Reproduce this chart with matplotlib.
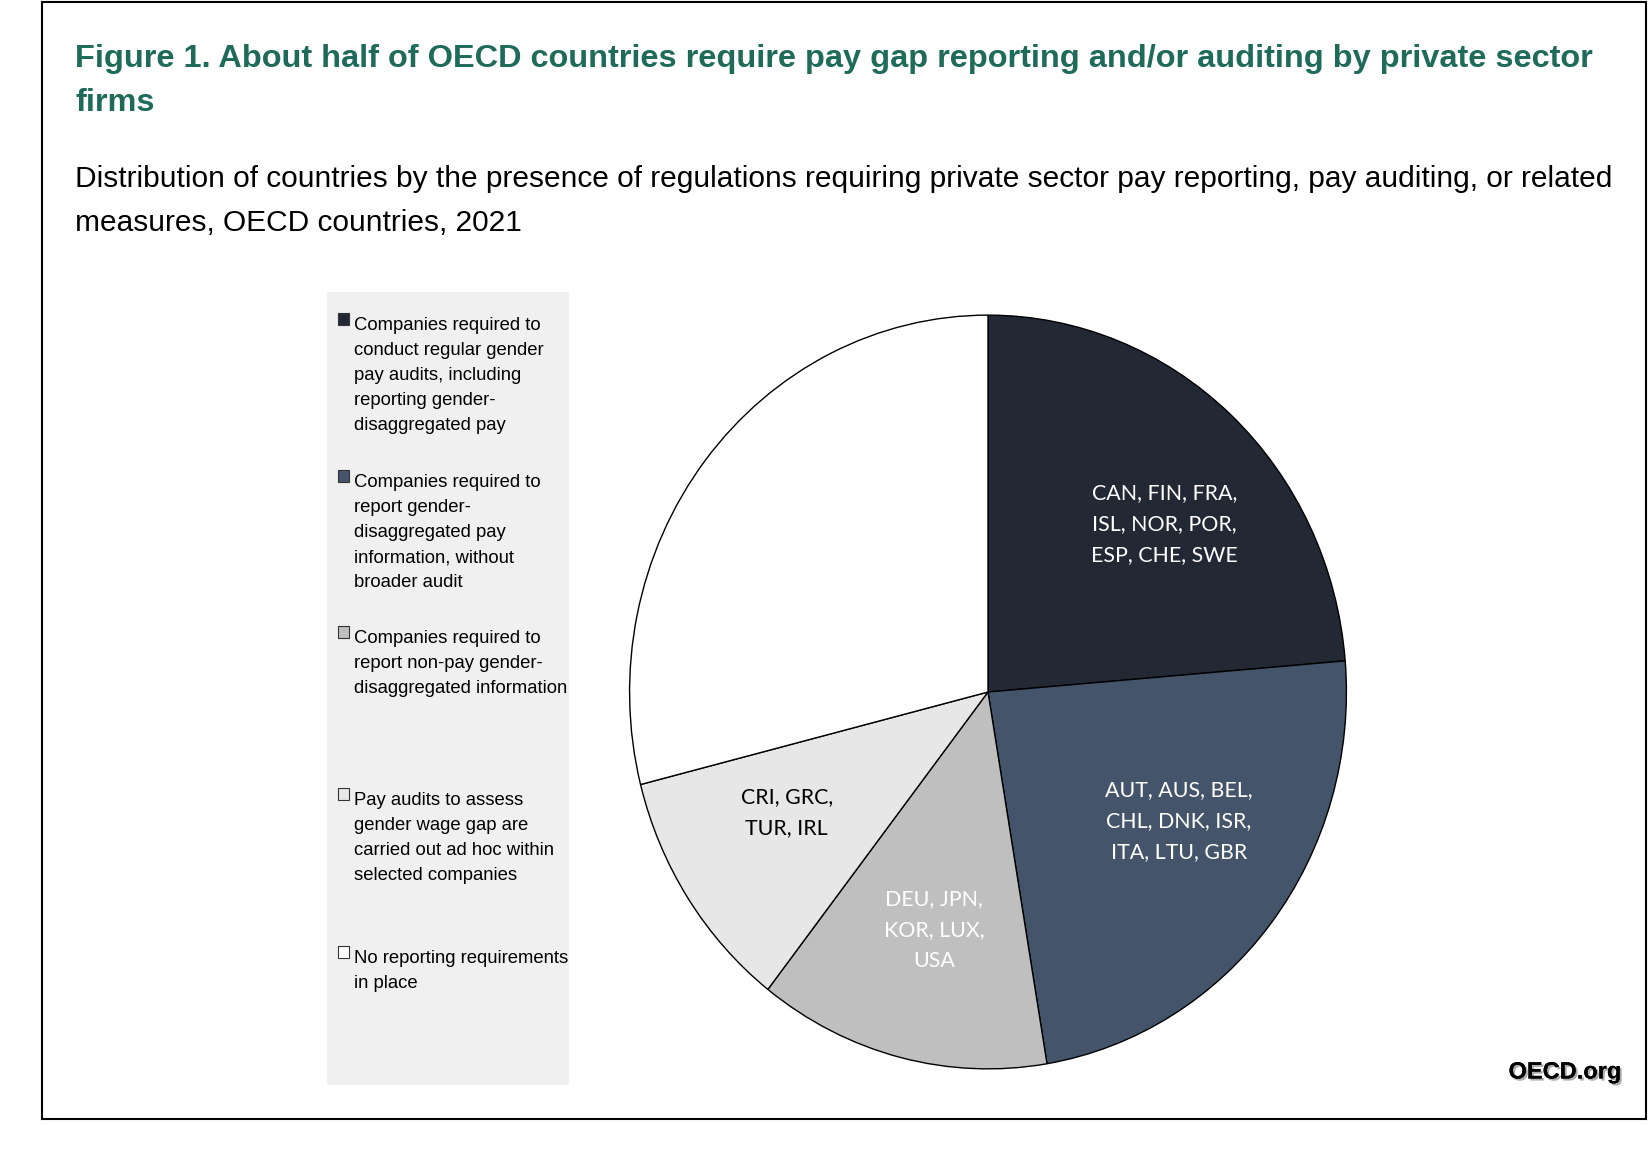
"""
Pie chart of OECD countries by pay reporting / auditing regulation, 2021.
"""

# ------ import section ------
import matplotlib
matplotlib.use("Agg")
import matplotlib.pyplot as plt
import matplotlib.patheffects as pe
from matplotlib import font_manager
from matplotlib.patches import Rectangle
import numpy as np

# ------ data section ------
categories = [
    "Companies required to\nconduct regular gender\npay audits, including\nreporting gender-\ndisaggregated pay",
    "Companies required to\nreport gender-\ndisaggregated pay\ninformation, without\nbroader audit",
    "Companies required to\nreport non-pay gender-\ndisaggregated information",
    "Pay audits to assess\ngender wage gap are\ncarried out ad hoc within\nselected companies",
    "No reporting requirements\nin place",
]
counts = [9, 9, 5, 4, 11]
slice_labels = [
    "CAN, FIN, FRA,\nISL, NOR, POR,\nESP, CHE, SWE",
    "AUT, AUS, BEL,\nCHL, DNK, ISR,\nITA, LTU, GBR",
    "DEU, JPN,\nKOR, LUX,\nUSA",
    "CRI, GRC,\nTUR, IRL",
    "",
]
colors = ["#222935", "#44546a", "#bfbfbf", "#e7e7e7", "#ffffff"]
label_colors = ["white", "white", "white", "black", "black"]
title_lines = ["Figure 1. About half of OECD countries require pay gap reporting and/or auditing by private sector",
               "firms"]
subtitle_lines = ["Distribution of countries by the presence of regulations requiring private sector pay reporting, pay auditing, or related",
                  "measures, OECD countries, 2021"]

W, H = 1648, 1162


def pick(names):
    have = {f.name for f in font_manager.fontManager.ttflist}
    for n in names:
        if n in have:
            return n
    return "DejaVu Sans"


NARROW = pick(["Liberation Sans Narrow", "Arial Narrow", "Liberation Sans"])
ARIAL = pick(["Liberation Sans", "Arial"])
LABEL = pick(["Lato", "Open Sans"])


def fx(x):
    return x / W


def fy(y):
    return 1 - y / H


# ------ main section ------
def main():
    fig = plt.figure(figsize=(W / 100, H / 100), dpi=100)

    # frame around the whole figure
    fig.patches.append(Rectangle((fx(42), fy(1119)), fx(1646) - fx(42), fy(2) - fy(1119),
                                 transform=fig.transFigure, fill=False,
                                 edgecolor="black", linewidth=1.5))

    for i, line in enumerate(title_lines):
        fig.text(fx(75), fy(67 + 44 * i), line, fontsize=23.4, fontweight="bold",
                 color="#1e6b5a", family=NARROW, va="baseline", ha="left")
    for i, line in enumerate(subtitle_lines):
        fig.text(fx(75), fy(187 + 44 * i), line, fontsize=21.5, color="black",
                 family=NARROW, va="baseline", ha="left")

    # legend panel
    fig.patches.append(Rectangle((fx(327), fy(1085)), fx(569) - fx(327), fy(292) - fy(1085),
                                 transform=fig.transFigure, facecolor="#f0f0f0",
                                 edgecolor="none"))
    baselines = [330, 487, 643, 805, 963]
    for cat, col, base in zip(categories, colors, baselines):
        fig.patches.append(Rectangle((fx(338), fy(base - 5)), fx(349) - fx(338), fy(313) - fy(325),
                                     transform=fig.transFigure, facecolor=col,
                                     edgecolor="#333333", linewidth=0.8))
        for j, line in enumerate(cat.split("\n")):
            fig.text(fx(354), fy(base + 25 * j), line, fontsize=13.3, family=NARROW,
                     va="baseline", ha="left")

    # the pie itself, slightly stretched as in the original
    ax = fig.add_axes([fx(628.5), fy(1070), fx(1347.5) - fx(628.5), fy(314) - fy(1070)])
    wedges, _ = ax.pie(counts, colors=colors, startangle=90, counterclock=False,
                       radius=1, wedgeprops=dict(edgecolor="black", linewidth=1.0))
    ax.set_aspect("auto")
    ax.set_xlim(-1.003, 1.003)
    ax.set_ylim(-1.003, 1.003)

    # label placement: distance from centre and small angle shift per slice
    radii = [0.664, 0.634, 0.650, 0.647, 0.65]
    shifts = [-5.2, 5.1, 0.9, -3.4, 0.0]
    for w, lab, tc, r, sh in zip(wedges, slice_labels, label_colors, radii, shifts):
        if not lab:
            continue
        mid = np.deg2rad((w.theta1 + w.theta2) / 2 + sh)
        ax.text(r * np.cos(mid), r * np.sin(mid), lab, ha="center", va="center",
                multialignment="center", fontsize=15.4, color=tc, family=LABEL,
                linespacing=1.68)

    fig.text(fx(1565), fy(1072), "OECD.org", fontsize=17, fontweight="bold",
             family=ARIAL, ha="center", va="center", color="black",
             path_effects=[pe.withSimplePatchShadow(offset=(1.5, -1.5),
                                                    shadow_rgbFace="#999999", alpha=0.8),
                           pe.Normal()])

    fig.savefig("out.png", dpi=100)


# ------ execution section ------
if __name__ == "__main__":
    main()
